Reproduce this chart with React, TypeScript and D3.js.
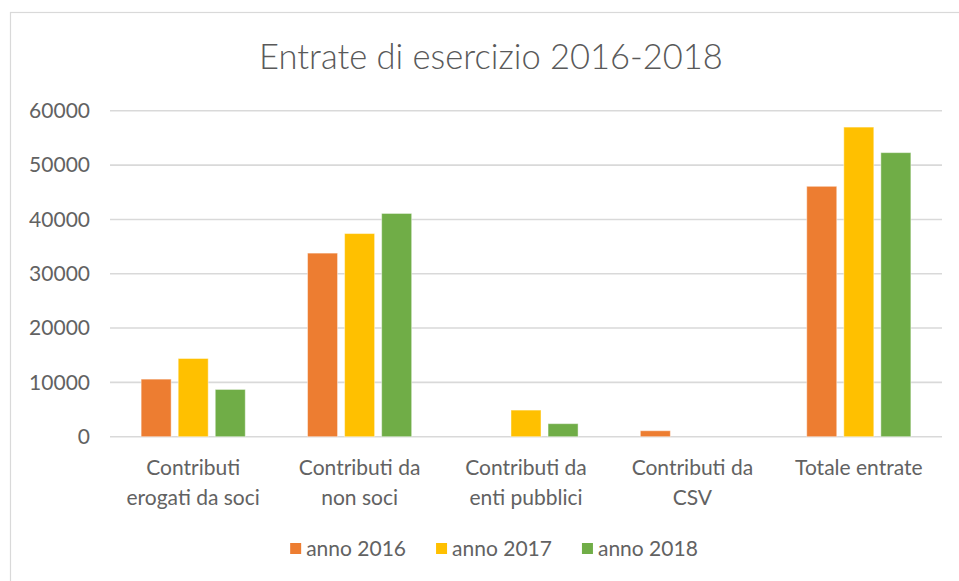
import * as d3 from 'd3';
import React, { useEffect, useRef } from 'react';

const categories = [
  ['Contributi', 'erogati da soci'],
  ['Contributi da', 'non soci'],
  ['Contributi da', 'enti pubblici'],
  ['Contributi da', 'CSV'],
  ['Totale entrate'],
];
const seriesNames = ['anno 2016', 'anno 2017', 'anno 2018'];
const anno2016 = [10600, 33800, 0, 1100, 46100];
const anno2017 = [14400, 37400, 4900, 0, 57000];
const anno2018 = [8700, 41100, 2400, 0, 52300];
const yTicks = [0, 10000, 20000, 30000, 40000, 50000, 60000];

const colors = ['#ED7D31', '#FFC000', '#70AD47'];
const font = 'Lato, "Open Sans", sans-serif';
const textColor = '#626262';

const App = () => {
  const ref = useRef(null);
  const width = 959;
  const height = 581;

  useEffect(() => {
    const svg = d3.select(ref.current);
    svg.selectAll('*').remove();

    const series = [anno2016, anno2017, anno2018];
    const keys = categories.map((c) => c.join(' '));

    // chart border
    svg.append('rect')
      .attr('x', 10.5).attr('y', 12.5)
      .attr('width', 970).attr('height', 590)
      .attr('fill', '#fff')
      .attr('stroke', '#d9d9d9')
      .attr('stroke-width', 1.2);

    const x0 = d3.scaleBand().domain(keys).range([110, 942]);
    const x1 = d3.scaleBand().domain(seriesNames).range([0, x0.bandwidth()])
      .paddingInner(0.19).paddingOuter(0.84);
    const y = d3.scaleLinear().domain([0, 60000]).range([436.7, 110.8]);

    // title
    svg.append('text')
      .attr('x', 491).attr('y', 69)
      .attr('text-anchor', 'middle')
      .attr('font-family', font)
      .attr('font-weight', 300)
      .attr('font-size', 34.5)
      .attr('fill', '#595959')
      .text('Entrate di esercizio 2016-2018');

    // gridlines + y labels
    const grid = svg.append('g');
    grid.selectAll('line')
      .data(yTicks)
      .enter().append('line')
      .attr('x1', 110).attr('x2', 942)
      .attr('y1', (d) => y(d)).attr('y2', (d) => y(d))
      .attr('stroke', '#d9d9d9')
      .attr('stroke-width', 1.6);
    grid.selectAll('text')
      .data(yTicks)
      .enter().append('text')
      .attr('x', 90)
      .attr('y', (d) => y(d))
      .attr('dy', '0.35em')
      .attr('text-anchor', 'end')
      .attr('font-family', font)
      .attr('font-size', 21)
      .attr('fill', textColor)
      .text((d) => d);

    // bars
    const groups = svg.append('g').selectAll('g')
      .data(keys)
      .enter().append('g')
      .attr('transform', (d) => 'translate(' + x0(d) + ',0)');
    groups.selectAll('rect')
      .data((d, i) => series.map((s, j) => ({ name: seriesNames[j], value: s[i], color: colors[j] })))
      .enter().append('rect')
      .filter((d) => d.value > 0)
      .attr('x', (d) => x1(d.name))
      .attr('y', (d) => y(d.value))
      .attr('width', x1.bandwidth())
      .attr('height', (d) => y(0) - y(d.value))
      .attr('fill', (d) => d.color)
      .attr('stroke', '#fff')
      .attr('stroke-opacity', 0.45)
      .attr('stroke-width', 1);

    // category labels
    const labels = svg.append('g').selectAll('text')
      .data(categories)
      .enter().append('text')
      .attr('x', (d, i) => x0(keys[i]) + x0.bandwidth() / 2)
      .attr('y', 475)
      .attr('text-anchor', 'middle')
      .attr('font-family', font)
      .attr('font-size', 21)
      .attr('fill', textColor);
    labels.selectAll('tspan')
      .data((d) => d)
      .enter().append('tspan')
      .attr('x', function () { return d3.select(this.parentNode).attr('x'); })
      .attr('dy', (d, i) => (i === 0 ? 0 : 30))
      .text((d) => d);

    // legend
    const legend = svg.append('g').attr('transform', 'translate(0,549)');
    const items = legend.selectAll('g')
      .data(seriesNames)
      .enter().append('g');
    items.append('rect')
      .attr('x', 0).attr('y', -6)
      .attr('width', 11).attr('height', 11)
      .attr('fill', (d, i) => colors[i]);
    items.append('text')
      .attr('x', 16).attr('dy', '0.35em')
      .attr('font-family', font)
      .attr('font-size', 21)
      .attr('fill', textColor)
      .text((d) => d);
    const gap = 30;
    const widths = [];
    items.selectAll('text').each(function () { widths.push(16 + this.getComputedTextLength()); });
    const total = d3.sum(widths) + gap * (widths.length - 1);
    let pos = 494 - total / 2;
    items.attr('transform', (d, i) => {
      const t = 'translate(' + pos + ',0)';
      pos += widths[i] + gap;
      return t;
    });
  }, []);

  return (
    <div style={{ position: 'absolute', left: 0, top: 0 }}>
      <svg ref={ref} width={width} height={height} style={{ display: 'block' }}></svg>
    </div>
  );
};

export default App;
